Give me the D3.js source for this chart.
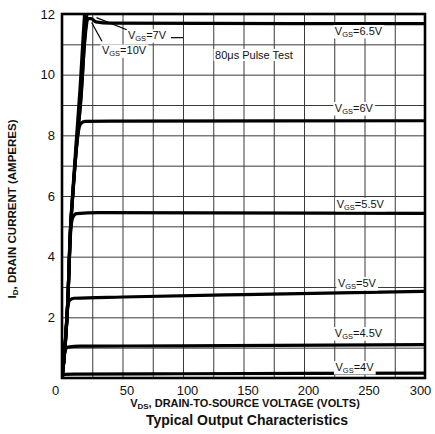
<!DOCTYPE html>
<html><head><meta charset="utf-8">
<script src="https://cdn.jsdelivr.net/npm/d3@7"></script>
<style>
html,body{margin:0;padding:0;background:#fff;}
svg{display:block;}
text{font-family:"Liberation Sans",Arial,Helvetica,sans-serif;fill:#111;}
</style></head>
<body>
<svg id="c" width="435" height="434"></svg>
<script>
// ---- data (VDS volts, ID amperes) ----
const vgsLevels = ["4", "4.5", "5", "5.5", "6", "6.5", "7", "10"];
const curve4V   = [[0,0],[0.8,0.08],[2,0.12],[10,0.13],[100,0.14],[300,0.16]];
const curve45V  = [[0,0],[1,0.45],[2,0.8],[3,0.95],[5,1.02],[15,1.05],[100,1.06],[300,1.1]];
const curve5V   = [[0,0],[1.5,0.6],[3,1.4],[4,2.0],[5,2.4],[6.5,2.57],[10,2.63],[50,2.67],[150,2.75],[300,2.86]];
const curve55V  = [[0,0],[2.5,1.0],[5,2.7],[6.6,4.4],[7.5,5.0],[9,5.3],[12,5.42],[30,5.45],[300,5.43]];
const curve6V   = [[0,0],[2.5,1.0],[5,2.7],[6.6,4.55],[9,6.05],[11.6,7.4],[13.5,8.1],[15.5,8.38],[19,8.46],[40,8.47],[300,8.48]];
const curve65V  = [[0,0],[2.5,1],[5,2.7],[6.6,4.55],[9,6.1],[11.6,7.45],[15.5,9.2],[19,11.2],[21.5,11.85],[24,11.85],[28,11.74],[40,11.7],[300,11.68]];
const curve7V   = [[0,0],[2.5,1],[5,2.7],[6.6,4.6],[9,6.1],[11.6,7.5],[15.7,9.2],[19,11.3],[21,12.2],[23,13.2]];
const curve10V  = [[0,0],[2.5,1.05],[5,2.75],[6.6,4.65],[9,6.2],[11.6,7.7],[15,9.6],[18,11.6],[19.5,12.5]];
const xTickLabels = [0, 50, 100, 150, 200, 250, 300];
const yTickLabels = [2, 4, 6, 8, 10, 12];
const xGrid = [25, 50, 75, 100, 125, 150, 175, 200, 225, 250, 275];
const yGrid = [1, 2, 3, 4, 5, 6, 7, 8, 9, 10, 11];

const curves = [curve4V, curve45V, curve5V, curve55V, curve6V, curve65V, curve7V, curve10V];

// ---- layout ----
const L = 62, R = 425, T = 14, B = 378;
const svg = d3.select("#c");
const x = d3.scaleLinear().domain([0, 300]).range([L, R]);
const y = d3.scaleLinear().domain([0, 12]).range([B, T]);

// clip
svg.append("defs").append("clipPath").attr("id", "clip")
  .append("rect").attr("x", L).attr("y", T).attr("width", R - L).attr("height", B - T);

// grid via axes
const gx = svg.append("g").attr("transform", `translate(0,${B})`)
  .call(d3.axisBottom(x).tickValues(xGrid).tickSize(-(B - T)).tickFormat(""));
const gy = svg.append("g").attr("transform", `translate(${L},0)`)
  .call(d3.axisLeft(y).tickValues(yGrid).tickSize(-(R - L)).tickFormat(""));
[gx, gy].forEach(g => {
  g.select(".domain").remove();
  g.selectAll("line").attr("stroke", "#3a3a3a").attr("stroke-width", 1);
});

// curves
const line = d3.line().x(d => x(d[0])).y(d => y(d[1])).curve(d3.curveMonotoneX);
svg.append("g").attr("clip-path", "url(#clip)")
  .selectAll("path").data(curves).join("path")
  .attr("d", line).attr("fill", "none").attr("stroke", "#000")
  .attr("stroke-width", 3.2).attr("stroke-linejoin", "round").attr("stroke-linecap", "round");

// frame
svg.append("rect").attr("x", L).attr("y", T).attr("width", R - L).attr("height", B - T)
  .attr("fill", "none").attr("stroke", "#000").attr("stroke-width", 2.6);

// tick labels via axes
const ax = svg.append("g").attr("transform", `translate(0,${B})`)
  .call(d3.axisBottom(x).tickValues(xTickLabels).tickSize(0).tickPadding(8));
ax.select(".domain").remove();
ax.selectAll("text").attr("font-size", 13).attr("fill", "#111")
  .attr("font-family", "Liberation Sans, Arial, sans-serif")
  .attr("dx", (d, i) => i === 0 ? -7 : (i === xTickLabels.length - 1 ? -5 : 4));
const ay = svg.append("g").attr("transform", `translate(${L},0)`)
  .call(d3.axisLeft(y).tickValues(yTickLabels).tickSize(0).tickPadding(7));
ay.select(".domain").remove();
ay.selectAll("text").attr("font-size", 13).attr("fill", "#111")
  .attr("font-family", "Liberation Sans, Arial, sans-serif");

// helper for V_GS labels
function vgsLabel(g, px, py, level) {
  const t = g.append("text").attr("x", px).attr("y", py)
    .attr("dominant-baseline", "central").attr("font-size", 11);
  t.append("tspan").text("V");
  t.append("tspan").text("GS").attr("font-size", 7.5).attr("dy", 3);
  t.append("tspan").text("=" + level + "V").attr("dy", -3);
  return t;
}
function withBg(g, t) {
  const b = t.node().getBBox();
  g.insert("rect", () => t.node())
    .attr("x", b.x - 1.5).attr("y", b.y).attr("width", b.width + 3).attr("height", b.height)
    .attr("fill", "#fff");
}

const ann = svg.append("g");
// right-side labels (positions in data units)
const rightLabelPos = [[226, 0.36], [225.5, 1.48], [228, 3.13], [227, 5.74], [225.5, 8.9], [225.5, 11.44]];
rightLabelPos.forEach((p, i) => {
  const t = vgsLabel(ann, x(p[0]), y(p[1]), vgsLevels[i]);
  withBg(ann, t);
});

// 7V and 10V labels with leaders
const t7 = vgsLabel(ann, x(54.5), y(11.3), vgsLevels[6]);
withBg(ann, t7);
const t10 = vgsLabel(ann, x(33), y(10.8), vgsLevels[7]);
withBg(ann, t10);
ann.append("line").attr("x1", x(28.5)).attr("y1", y(11.88)).attr("x2", x(53.5)).attr("y2", y(11.48))
  .attr("stroke", "#000").attr("stroke-width", 1.2);
ann.append("line").attr("x1", x(90)).attr("y1", y(11.22)).attr("x2", x(100)).attr("y2", y(11.22))
  .attr("stroke", "#000").attr("stroke-width", 1.2);
ann.append("line").attr("x1", x(24.5)).attr("y1", y(11.72)).attr("x2", x(33)).attr("y2", y(11.1))
  .attr("stroke", "#000").attr("stroke-width", 1.2);

// pulse test note
const tp = ann.append("text").attr("x", x(126.5)).attr("y", y(10.65))
  .attr("dominant-baseline", "central").attr("font-size", 11).text("80\u03BCs Pulse Test");
withBg(ann, tp);

// axis titles
const xt = svg.append("text").attr("x", 245).attr("y", 407).attr("text-anchor", "middle")
  .attr("font-size", 11).attr("font-weight", "bold");
xt.append("tspan").text("V");
xt.append("tspan").text("DS").attr("font-size", 8).attr("dy", 2);
xt.append("tspan").text(", DRAIN-TO-SOURCE VOLTAGE (VOLTS)").attr("dy", -2);

svg.append("text").attr("x", 247).attr("y", 425).attr("text-anchor", "middle")
  .attr("font-size", 14).attr("font-weight", "bold").text("Typical Output Characteristics");

const yt = svg.append("text").attr("transform", "translate(16,209) rotate(-90)")
  .attr("text-anchor", "middle").attr("font-size", 11.5).attr("font-weight", "bold");
yt.append("tspan").text("I");
yt.append("tspan").text("D").attr("font-size", 8).attr("dy", 2);
yt.append("tspan").text(", DRAIN CURRENT (AMPERES)").attr("dy", -2);
</script>
</body></html>
